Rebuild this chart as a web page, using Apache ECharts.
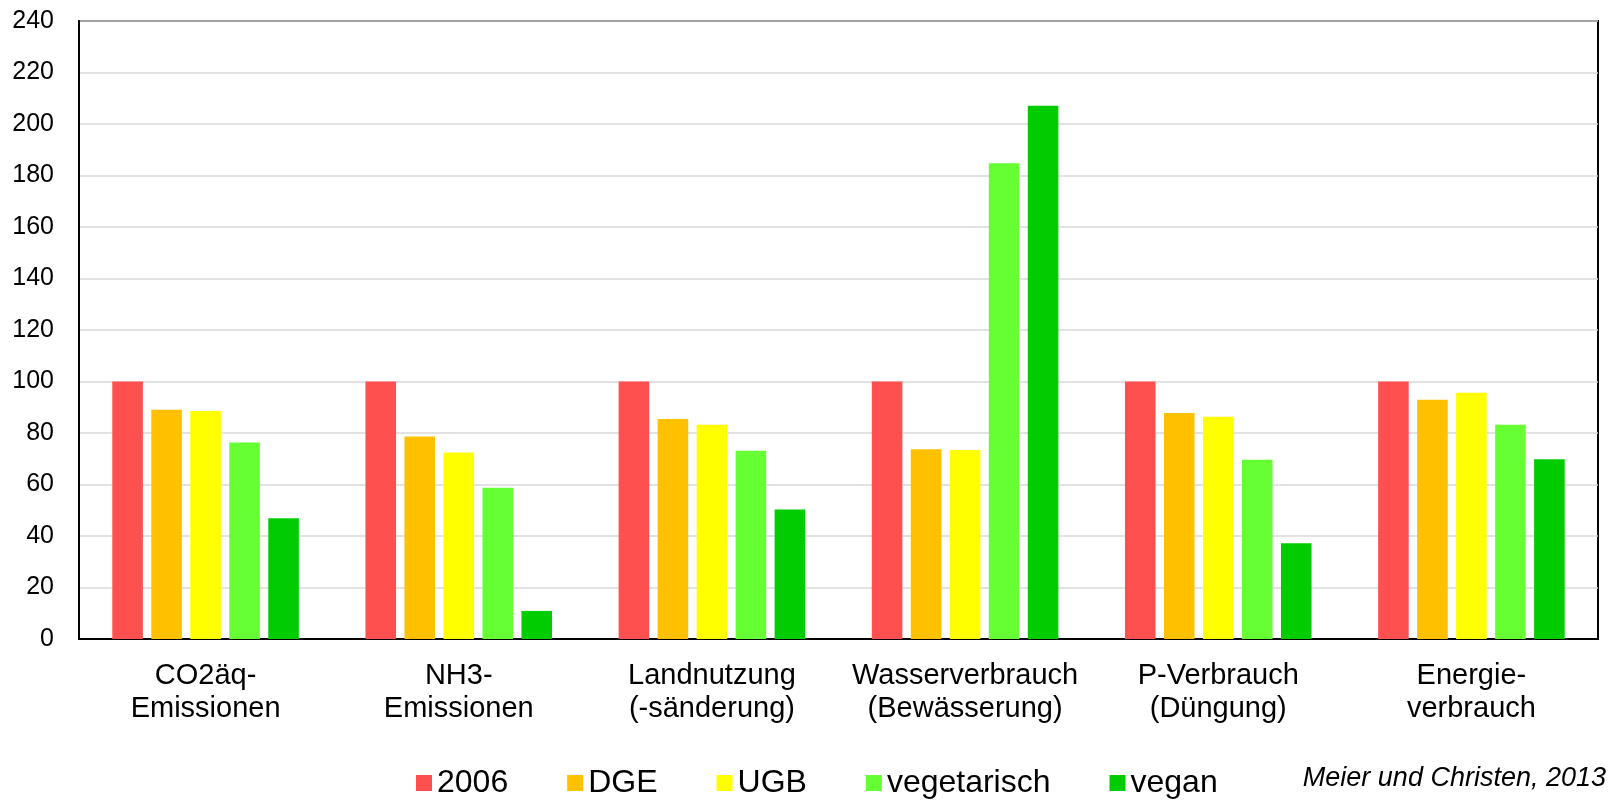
<!DOCTYPE html>
<html>
<head>
<meta charset="utf-8">
<script src="https://cdn.jsdelivr.net/npm/echarts@6/dist/echarts.min.js"></script>
<style>
html,body{margin:0;padding:0;background:#fff;}
#chart{width:1611px;height:800px;}
</style>
</head>
<body>
<div id="chart"></div>
<script>
const categories = ["CO2äq-\nEmissionen", "NH3-\nEmissionen", "Landnutzung\n(-sänderung)", "Wasserverbrauch\n(Bewässerung)", "P-Verbrauch\n(Düngung)", "Energie-\nverbrauch"];
const seriesNames = ["2006", "DGE", "UGB", "vegetarisch", "vegan"];
const values2006 = [100, 100, 100, 100, 100, 100];
const valuesDGE = [89.0, 78.6, 85.4, 73.7, 87.8, 92.9];
const valuesUGB = [88.5, 72.4, 83.2, 73.4, 86.3, 95.6];
const valuesVegetarisch = [76.3, 58.7, 73.1, 184.8, 69.6, 83.2];
const valuesVegan = [46.9, 10.9, 50.3, 207.1, 37.2, 69.8];
const colors = ["#FF5050", "#FFC000", "#FFFF00", "#66FF33", "#00CC00"];
const yTicks = { min: 0, max: 240, interval: 20 };
const credit = "Meier und Christen, 2013";

const allValues = [values2006, valuesDGE, valuesUGB, valuesVegetarisch, valuesVegan];
const FONT = "'Liberation Sans', Arial, sans-serif";

const chart = echarts.init(document.getElementById('chart'));
chart.setOption({
  animation: false,
  backgroundColor: '#ffffff',
  grid: {
    left: 79, right: 13, top: 21, bottom: 161,
    show: true, borderColor: '#000', borderWidth: 2, containLabel: false
  },
  legend: {
    data: seriesNames,
    left: 416, top: 767, padding: 0,
    itemWidth: 16, itemHeight: 16, itemGap: 59,
    icon: 'rect',
    textStyle: { fontSize: 32, fontFamily: FONT, color: '#000' }
  },
  xAxis: {
    type: 'category',
    data: categories,
    axisLine: { show: true, lineStyle: { color: '#000', width: 2 } },
    axisTick: { show: false },
    axisLabel: { fontSize: 29, lineHeight: 33, margin: 20, color: '#000', fontFamily: FONT, interval: 0 }
  },
  yAxis: {
    type: 'value',
    min: yTicks.min, max: yTicks.max, interval: yTicks.interval,
    axisLine: { show: true, lineStyle: { color: '#000', width: 2 } },
    axisTick: { show: false },
    axisLabel: { fontSize: 25, margin: 25, color: '#000', fontFamily: FONT },
    splitLine: { show: true, lineStyle: { color: '#D9D9D9', width: 1.5 } }
  },
  series: seriesNames.map((name, i) => ({
    name: name,
    type: 'bar',
    data: allValues[i],
    barGap: '27.5%',
    barCategoryGap: '26.3%',
    itemStyle: { color: colors[i] }
  })),
  graphic: [{
    type: 'text',
    right: 5, top: 765,
    style: { text: credit, fontSize: 27, fontStyle: 'italic', fontFamily: FONT, fill: '#000' }
  }]
});
</script>
</body>
</html>
